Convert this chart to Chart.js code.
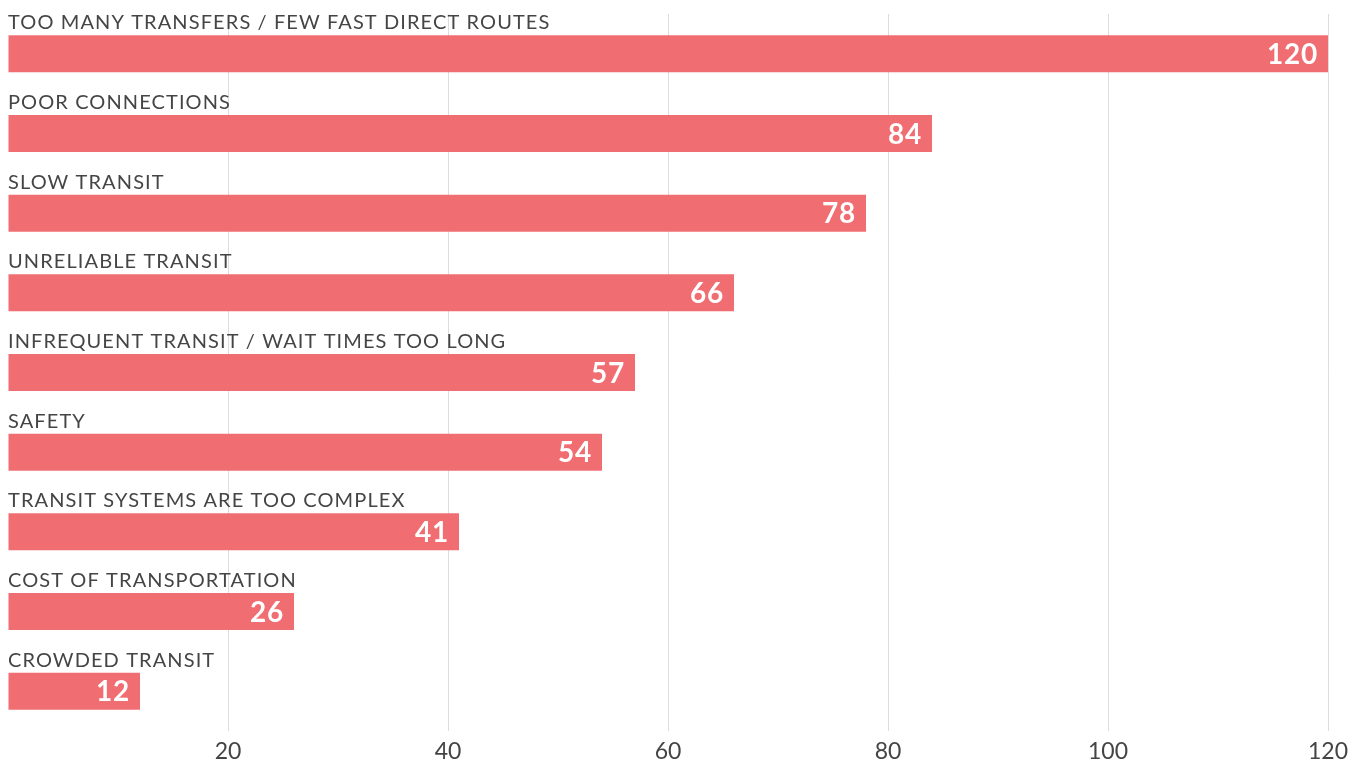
<!DOCTYPE html>
<html>
<head>
<meta charset="utf-8">
<script src="https://cdn.jsdelivr.net/npm/chart.js@4"></script>
<style>
  html, body { margin: 0; padding: 0; background: #fff; }
  #wrap { width: 1367px; height: 761px; }
</style>
</head>
<body>
<div id="wrap"><canvas id="chart" width="1367" height="761"></canvas></div>
<script>
const categories = [
  "TOO MANY TRANSFERS / FEW FAST DIRECT ROUTES",
  "POOR CONNECTIONS",
  "SLOW TRANSIT",
  "UNRELIABLE TRANSIT",
  "INFREQUENT TRANSIT / WAIT TIMES TOO LONG",
  "SAFETY",
  "TRANSIT SYSTEMS ARE TOO COMPLEX",
  "COST OF TRANSPORTATION",
  "CROWDED TRANSIT"
];
const counts = [120, 84, 78, 66, 57, 54, 41, 26, 12];
const xTicks = [20, 40, 60, 80, 100, 120];

const fontFamily = "Lato, 'Open Sans', sans-serif";

// category names above bars, values inside the bar ends
const barLabels = {
  id: 'barLabels',
  afterDatasetsDraw(chart) {
    const ctx = chart.ctx;
    const meta = chart.getDatasetMeta(0);
    ctx.save();
    meta.data.forEach((bar, i) => {
      const top = bar.y - bar.height / 2;
      ctx.fillStyle = '#454545';
      ctx.font = '20px ' + fontFamily;
      ctx.letterSpacing = '1.1px';
      ctx.textAlign = 'left';
      ctx.textBaseline = 'alphabetic';
      ctx.fillText(categories[i], chart.chartArea.left, top - 6);

      ctx.fillStyle = '#fff';
      ctx.font = 'bold 28px ' + fontFamily;
      ctx.letterSpacing = '0.8px';
      ctx.textAlign = 'right';
      ctx.textBaseline = 'middle';
      ctx.fillText(String(counts[i]), bar.x - 10, bar.y + 1);
    });
    ctx.restore();
  }
};

new Chart(document.getElementById('chart'), {
  type: 'bar',
  data: {
    labels: categories,
    datasets: [{
      data: counts,
      backgroundColor: '#f06e72',
      borderWidth: 0,
      categoryPercentage: 1,
      barPercentage: 0.464
    }]
  },
  options: {
    indexAxis: 'y',
    responsive: false,
    animation: false,
    layout: { padding: { top: 14, left: 8, right: 39, bottom: 0 } },
    plugins: { legend: { display: false }, tooltip: { enabled: false } },
    scales: {
      x: {
        min: 0,
        max: 120,
        border: { display: false },
        grid: {
          color: c => c.tick && c.tick.value === 0 ? 'rgba(0,0,0,0)' : '#dddddd',
          lineWidth: 1,
          drawTicks: false
        },
        afterBuildTicks: axis => {
          axis.ticks = [0].concat(xTicks).map(v => ({ value: v }));
        },
        afterFit: axis => { axis.height = 30; },
        ticks: {
          padding: 7,
          color: '#444',
          font: { family: fontFamily, size: 23 },
          callback: v => v === 0 ? '' : v
        }
      },
      y: {
        display: false
      }
    }
  },
  plugins: [barLabels]
});
</script>
</body>
</html>
